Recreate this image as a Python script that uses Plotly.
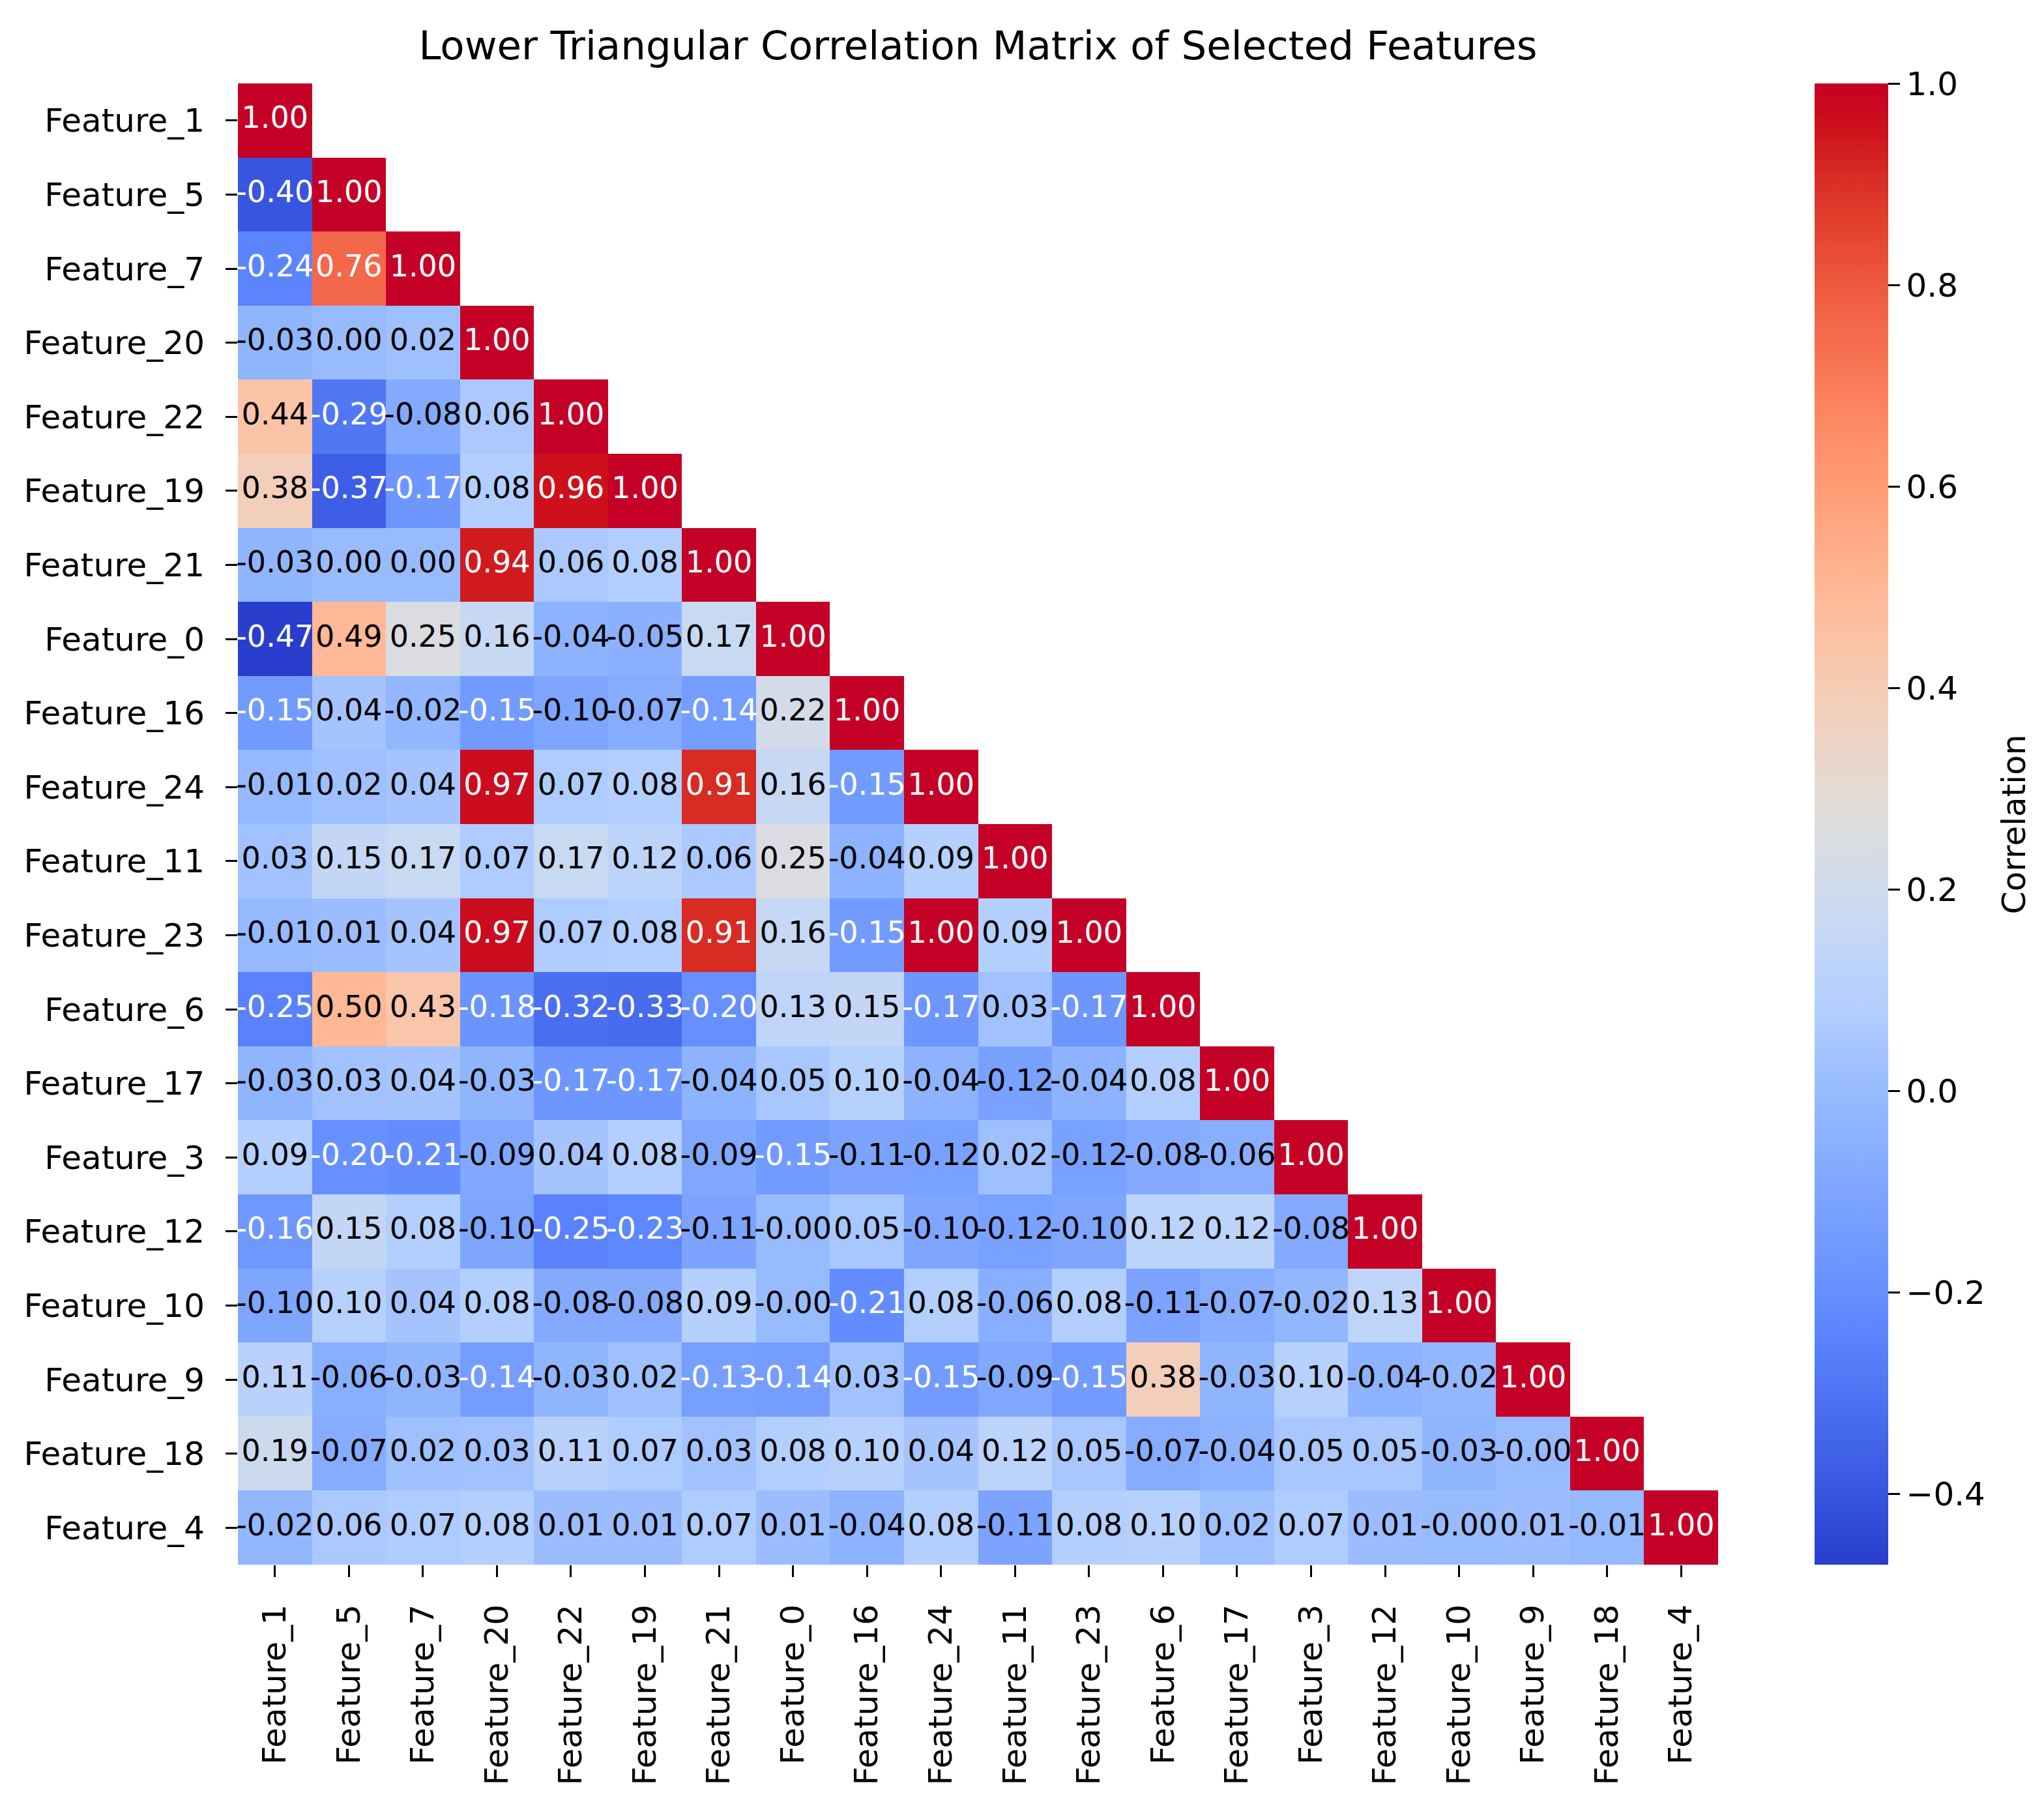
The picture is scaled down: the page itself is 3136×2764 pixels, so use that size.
import colorsys
import plotly.graph_objects as go

# feature order (rows top->bottom, columns left->right)
features = ["Feature_1", "Feature_5", "Feature_7", "Feature_20", "Feature_22",
            "Feature_19", "Feature_21", "Feature_0", "Feature_16", "Feature_24",
            "Feature_11", "Feature_23", "Feature_6", "Feature_17", "Feature_3",
            "Feature_12", "Feature_10", "Feature_9", "Feature_18", "Feature_4"]

# lower triangle incl. diagonal, one list per row
row_f1 = [1.00]
row_f5 = [-0.40, 1.00]
row_f7 = [-0.24, 0.76, 1.00]
row_f20 = [-0.03, 0.00, 0.02, 1.00]
row_f22 = [0.44, -0.29, -0.08, 0.06, 1.00]
row_f19 = [0.38, -0.37, -0.17, 0.08, 0.96, 1.00]
row_f21 = [-0.03, 0.00, 0.00, 0.94, 0.06, 0.08, 1.00]
row_f0 = [-0.47, 0.49, 0.25, 0.16, -0.04, -0.05, 0.17, 1.00]
row_f16 = [-0.15, 0.04, -0.02, -0.15, -0.10, -0.07, -0.14, 0.22, 1.00]
row_f24 = [-0.01, 0.02, 0.04, 0.97, 0.07, 0.08, 0.91, 0.16, -0.15, 1.00]
row_f11 = [0.03, 0.15, 0.17, 0.07, 0.17, 0.12, 0.06, 0.25, -0.04, 0.09, 1.00]
row_f23 = [-0.01, 0.01, 0.04, 0.97, 0.07, 0.08, 0.91, 0.16, -0.15, 1.00, 0.09, 1.00]
row_f6 = [-0.25, 0.50, 0.43, -0.18, -0.32, -0.33, -0.20, 0.13, 0.15, -0.17, 0.03,
          -0.17, 1.00]
row_f17 = [-0.03, 0.03, 0.04, -0.03, -0.17, -0.17, -0.04, 0.05, 0.10, -0.04, -0.12,
           -0.04, 0.08, 1.00]
row_f3 = [0.09, -0.20, -0.21, -0.09, 0.04, 0.08, -0.09, -0.15, -0.11, -0.12, 0.02,
          -0.12, -0.08, -0.06, 1.00]
row_f12 = [-0.16, 0.15, 0.08, -0.10, -0.25, -0.23, -0.11, -0.00, 0.05, -0.10, -0.12,
           -0.10, 0.12, 0.12, -0.08, 1.00]
row_f10 = [-0.10, 0.10, 0.04, 0.08, -0.08, -0.08, 0.09, -0.00, -0.21, 0.08, -0.06,
           0.08, -0.11, -0.07, -0.02, 0.13, 1.00]
row_f9 = [0.11, -0.06, -0.03, -0.14, -0.03, 0.02, -0.13, -0.14, 0.03, -0.15, -0.09,
          -0.15, 0.38, -0.03, 0.10, -0.04, -0.02, 1.00]
row_f18 = [0.19, -0.07, 0.02, 0.03, 0.11, 0.07, 0.03, 0.08, 0.10, 0.04, 0.12, 0.05,
           -0.07, -0.04, 0.05, 0.05, -0.03, -0.00, 1.00]
row_f4 = [-0.02, 0.06, 0.07, 0.08, 0.01, 0.01, 0.07, 0.01, -0.04, 0.08, -0.11, 0.08,
          0.10, 0.02, 0.07, 0.01, -0.00, 0.01, -0.01, 1.00]

rows = [row_f1, row_f5, row_f7, row_f20, row_f22, row_f19, row_f21, row_f0, row_f16,
        row_f24, row_f11, row_f23, row_f6, row_f17, row_f3, row_f12, row_f10, row_f9,
        row_f18, row_f4]

cbar_ticks = [-0.4, -0.2, 0.0, 0.2, 0.4, 0.6, 0.8, 1.0]

# matplotlib coolwarm control points
cw = [(59, 76, 192), (68, 90, 204), (77, 104, 215), (87, 117, 225), (98, 130, 234),
      (108, 142, 241), (119, 154, 247), (130, 165, 251), (141, 176, 254),
      (152, 185, 255), (163, 194, 255), (174, 201, 253), (184, 208, 249),
      (194, 213, 244), (204, 217, 238), (213, 219, 230), (221, 221, 221),
      (229, 216, 209), (236, 211, 197), (241, 204, 184), (245, 196, 172),
      (247, 187, 159), (247, 177, 147), (247, 166, 134), (244, 154, 123),
      (241, 141, 111), (236, 127, 99), (229, 112, 88), (222, 96, 77), (213, 80, 66),
      (203, 62, 56), (192, 40, 47), (180, 4, 38)]


# the reference picture is a bit more saturated than plain coolwarm
def punch(c):
    h, s, v = colorsys.rgb_to_hsv(*[x / 255 for x in c])
    s2 = min(1.0, s * 1.15)
    v2 = min(1.0, v * (1 + 0.09 * s))
    return tuple(round(x * 255) for x in colorsys.hsv_to_rgb(h, s2, v2))


coolwarm = [[i / (len(cw) - 1), "rgb(%d,%d,%d)" % punch(c)] for i, c in enumerate(cw)]

n = len(features)
z = [[r[j] if j < len(r) else None for j in range(n)] for r in rows]
zmin = min(min(r) for r in rows)
zmax = 1.0


def cmap(v):
    t = (v - zmin) / (zmax - zmin)
    t = min(max(t, 0), 1) * (len(cw) - 1)
    i = min(int(t), len(cw) - 2)
    f = t - i
    return [cw[i][k] + (cw[i + 1][k] - cw[i][k]) * f for k in range(3)]


def lum(rgb):
    out = []
    for c in rgb:
        c = c / 255
        out.append(c / 12.92 if c <= 0.03928 else ((c + 0.055) / 1.055) ** 2.4)
    return 0.2126 * out[0] + 0.7152 * out[1] + 0.0722 * out[2]


tx, ty, tt, tc = [], [], [], []
for i, r in enumerate(rows):
    for j, v in enumerate(r):
        tx.append(features[j])
        ty.append(features[i])
        tt.append("{:.2f}".format(v))
        tc.append("black" if lum(cmap(v)) > 0.408 else "white")

FONT = "DejaVu Sans"

fig = go.Figure()
fig.add_trace(go.Heatmap(
    x=features, y=features, z=z, zmin=zmin, zmax=zmax,
    colorscale=coolwarm, hoverongaps=False,
    colorbar=dict(x=1.0652, xanchor="left", y=0.5, yanchor="middle",
                  len=1, lenmode="fraction", thickness=113, thicknessmode="pixels",
                  xpad=0, ypad=0, outlinewidth=0, ticks="outside", ticklen=18,
                  tickwidth=2.5, tickcolor="black", tickvals=cbar_ticks,
                  tickformat=".1f",
                  tickfont=dict(family=FONT, size=50, color="black"))
))
fig.add_trace(go.Scatter(
    x=tx, y=ty, text=tt, mode="text", textposition="middle center",
    textfont=dict(family=FONT, size=46, color=tc),
    cliponaxis=False, showlegend=False, hoverinfo="skip"
))

axis_style = dict(showgrid=False, zeroline=False, showline=False, ticks="outside",
                  ticklen=18, tickwidth=2.5, tickcolor="black",
                  ticklabelstandoff=22, categoryorder="array", categoryarray=features,
                  tickfont=dict(family=FONT, size=50, color="black"))

fig.update_xaxes(**axis_style, tickangle=-90, range=[-0.5, n - 0.5])
fig.update_yaxes(**axis_style, range=[n - 0.5, -0.5])

fig.update_layout(
    width=3136, height=2764,
    margin=dict(l=357, r=508, t=120, b=372, autoexpand=False),
    paper_bgcolor="white", plot_bgcolor="white",
    title=dict(text="Lower Triangular Correlation Matrix of Selected Features",
               x=0.5, xref="paper", xanchor="center",
               y=1 - 62 / 2764, yanchor="middle",
               font=dict(family=FONT, size=61, color="black")),
    annotations=[dict(text="Correlation", xref="paper", yref="paper",
                      x=1.2, y=0.5, xanchor="center", yanchor="middle",
                      textangle=-90, showarrow=False,
                      font=dict(family=FONT, size=50, color="black"))]
)

fig.write_html("out.html")
